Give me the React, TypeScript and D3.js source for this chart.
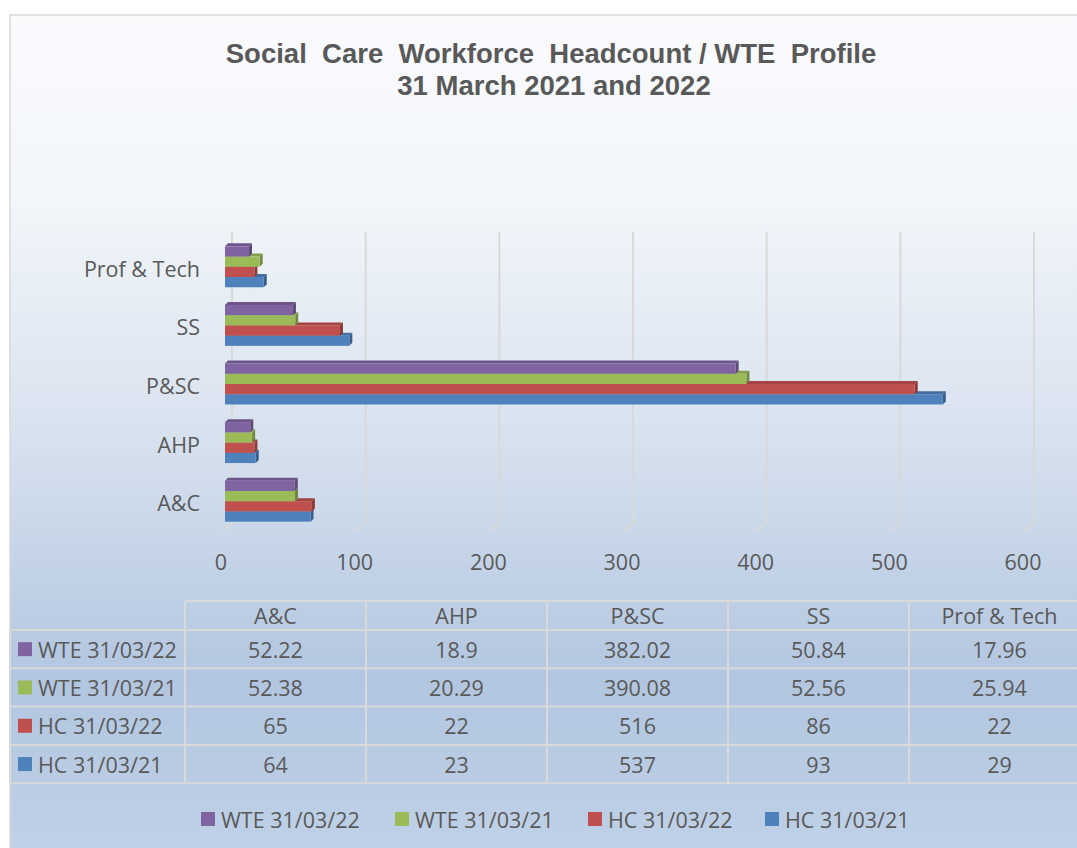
import React from "react";
import * as d3 from "d3";

// chart data
const categories = ["A&C", "AHP", "P&SC", "SS", "Prof & Tech"];
const seriesNames = ["WTE 31/03/22", "WTE 31/03/21", "HC 31/03/22", "HC 31/03/21"];
const wte22 = [52.22, 18.9, 382.02, 50.84, 17.96];
const wte21 = [52.38, 20.29, 390.08, 52.56, 25.94];
const hc22 = [65, 22, 516, 86, 22];
const hc21 = [64, 23, 537, 93, 29];
const wteLabels22 = ["52.22", "18.9", "382.02", "50.84", "17.96"];
const wteLabels21 = ["52.38", "20.29", "390.08", "52.56", "25.94"];
const xTicks = [0, 100, 200, 300, 400, 500, 600];

const seriesColors = ["#8064a2", "#9bbb59", "#c0504d", "#4f81bd"];

const W = 1077;
const H = 848;
const textColor = "#595959";
const font = "'Open Sans', 'Noto Sans', sans-serif";
const fs = 21.5;

const App = () => {
  const values = [wte22, wte21, hc22, hc21];
  const labels = [wteLabels22, wteLabels21, hc22.map(String), hc21.map(String)];

  // scales
  const x = d3.scaleLinear().domain([0, 600]).range([225, 1027]);
  const y0 = d3
    .scaleBand()
    .domain([...categories].reverse())
    .range([236, 529])
    .paddingInner(0.25)
    .paddingOuter(0.125);
  const depth = 3;
  const y1 = d3.scaleBand().domain(seriesNames).range([depth, y0.bandwidth()]);
  const barH = y1.bandwidth();

  // table layout
  const colX = d3.range(6).map(i => 185 + i * 181);
  const headTop = 601;
  const rowY = d3.range(5).map(i => 630 + i * 38.3);

  const gridColor = "#d9d9d9";

  return (
    <svg width={W} height={H} style={{ position: "absolute", left: 0, top: 0 }}>
      <style>{`body { margin: 0; }`}</style>
      <defs>
        <linearGradient id="bg" x1="0" y1="0" x2="0" y2="1">
          <stop offset="0" stopColor="#fafbfd" />
          <stop offset="0.22" stopColor="#f3f6fa" />
          <stop offset="0.5" stopColor="#d8e2ef" />
          <stop offset="0.8" stopColor="#b2c6e0" />
          <stop offset="1" stopColor="#bfd1e7" />
        </linearGradient>
      </defs>
      <rect x={0} y={0} width={W} height={H} fill="#fff" />
      <rect x={10} y={15} width={W - 10} height={H - 15} fill="url(#bg)" />
      <path d={`M10,${H} V15 H${W}`} fill="none" stroke={gridColor} strokeWidth={1.5} />

      {/* title */}
      <text
        x={551}
        y={63}
        textAnchor="middle"
        fontFamily="'Liberation Sans', Arial, sans-serif"
        fontWeight="bold"
        fontSize={27.5}
        fill={textColor}
        style={{ whiteSpace: "pre" }}
      >
        {"Social  Care  Workforce  Headcount / WTE  Profile"}
      </text>
      <text
        x={554}
        y={95}
        textAnchor="middle"
        fontFamily="'Liberation Sans', Arial, sans-serif"
        fontWeight="bold"
        fontSize={27.5}
        fill={textColor}
      >
        31 March 2021 and 2022
      </text>

      {/* back wall gridlines */}
      {xTicks.map(t => (
        <path
          key={"g" + t}
          d={`M${x(t) + 7},232 V523 L${x(t) - 3},531`}
          fill="none"
          stroke={gridColor}
          strokeWidth={2}
        />
      ))}

      {/* bars, drawn bottom series first so upper bars cover top faces */}
      {categories.map((c, ci) => (
        <g key={c} transform={`translate(0,${y0(c)})`}>
          {[3, 2, 1, 0].map(si => {
            const v = values[si][ci];
            const x0 = x(0);
            const x1 = x(v);
            const yy = y1(seriesNames[si]) as number;
            const col = d3.color(seriesColors[si]) as d3.RGBColor;
            return (
              <g key={si}>
                <polygon
                  points={`${x0},${yy} ${x1},${yy} ${x1 + depth},${yy - depth} ${x0 + depth},${yy - depth}`}
                  fill={col.darker(0.45).toString()}
                />
                <polygon
                  points={`${x1},${yy} ${x1 + depth},${yy - depth} ${x1 + depth},${yy + barH - depth} ${x1},${yy + barH}`}
                  fill={col.darker(0.9).toString()}
                />
                <rect x={x0} y={yy} width={x1 - x0} height={barH} fill={seriesColors[si]} />
              </g>
            );
          })}
        </g>
      ))}

      {/* category labels */}
      {categories.map(c => (
        <text
          key={"c" + c}
          x={200}
          y={(y0(c) as number) + y0.bandwidth() / 2 + 3}
          textAnchor="end"
          dominantBaseline="central"
          fontFamily={font}
          fontSize={fs}
          fill={textColor}
        >
          {c}
        </text>
      ))}

      {/* x tick labels */}
      {xTicks.map(t => (
        <text
          key={"t" + t}
          x={x(t) - 4}
          y={561}
          textAnchor="middle"
          dominantBaseline="central"
          fontFamily={font}
          fontSize={fs}
          fill={textColor}
        >
          {t}
        </text>
      ))}

      {/* data table */}
      <g stroke={gridColor} strokeWidth={2} fill="none">
        <line x1={colX[0]} x2={W} y1={headTop} y2={headTop} />
        {rowY.map((r, i) => (
          <line key={"h" + i} x1={10} x2={W} y1={r} y2={r} />
        ))}
        {colX.map((cx, i) => (
          <line key={"v" + i} x1={cx} x2={cx} y1={headTop} y2={rowY[4]} />
        ))}
        <line x1={10} x2={10} y1={rowY[0]} y2={rowY[4]} />
      </g>
      {categories.map((c, ci) => (
        <text
          key={"th" + c}
          x={(colX[ci] + colX[ci + 1]) / 2}
          y={(headTop + rowY[0]) / 2}
          textAnchor="middle"
          dominantBaseline="central"
          fontFamily={font}
          fontSize={fs}
          fill={textColor}
        >
          {c}
        </text>
      ))}
      {seriesNames.map((s, si) => {
        const cy = (rowY[si] + rowY[si + 1]) / 2;
        return (
          <g key={"row" + s}>
            <rect x={18} y={cy - 7} width={14} height={14} fill={seriesColors[si]} />
            <text
              x={38}
              y={cy}
              dominantBaseline="central"
              fontFamily={font}
              fontSize={fs}
              fill={textColor}
            >
              {s}
            </text>
            {labels[si].map((l, ci) => (
              <text
                key={ci}
                x={(colX[ci] + colX[ci + 1]) / 2}
                y={cy}
                textAnchor="middle"
                dominantBaseline="central"
                fontFamily={font}
                fontSize={fs}
                fill={textColor}
              >
                {l}
              </text>
            ))}
          </g>
        );
      })}

      {/* legend */}
      {seriesNames.map((s, si) => {
        const lx = [201, 395, 588, 765][si];
        return (
          <g key={"lg" + s}>
            <rect x={lx} y={812} width={14} height={14} fill={seriesColors[si]} />
            <text
              x={lx + 20}
              y={819}
              dominantBaseline="central"
              fontFamily={font}
              fontSize={fs}
              fill={textColor}
            >
              {s}
            </text>
          </g>
        );
      })}
    </svg>
  );
};

export default App;
